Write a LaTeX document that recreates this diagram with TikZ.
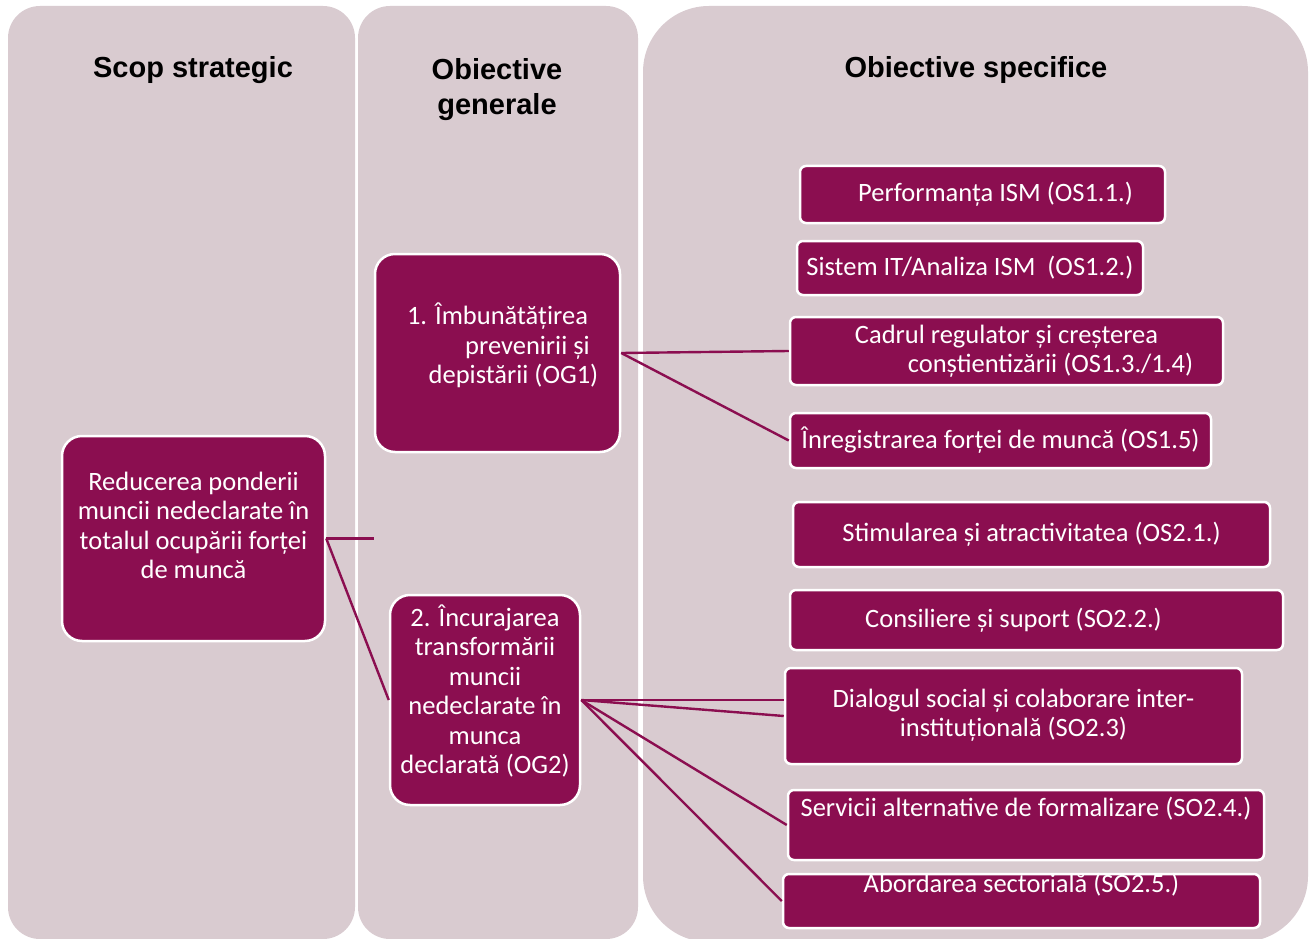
\documentclass[tikz,border=0pt]{standalone}
\usepackage{fontspec}
\setmainfont{Carlito}
\newfontfamily\headfont{Liberation Sans}
\usepackage{xcolor}
\definecolor{mov}{RGB}{139,14,80}
\definecolor{fundal}{RGB}{217,203,208}
\tikzset{
  coloana/.style={fill=fundal},
  titlu/.style={font=\headfont\bfseries\fontsize{29}{35}\selectfont, align=center, inner sep=0pt, anchor=north},
  mare/.style={draw=white, line width=2.5pt, fill=mov, rounded corners=20pt, text=white,
    align=center, font=\fontsize{26.5}{29.5}\selectfont, inner sep=4pt},
  mic/.style={draw=white, line width=2.5pt, fill=mov, rounded corners=6pt, text=white,
    font=\fontsize{26.5}{29.5}\selectfont, inner sep=3pt},
  leg/.style={draw=mov, line width=2.4pt}
}

\begin{document}
\begin{tikzpicture}[x=1pt, y=-1pt]
     \useasboundingbox [fill=white] (0,0) rectangle (1310,939);
     \fill [coloana, rounded corners=32pt] (8,6) rectangle (355,939);
     \fill [coloana, rounded corners=32pt] (358,6) rectangle (638,939);
     \fill [coloana, rounded corners=66pt] (643,6) rectangle (1308,942);

     \node [titlu] (hscop) at (193,56) {Scop strategic};
     \node [titlu] (hgen) at (497,58) {Obiective\\generale};
     \node [titlu] (hspec) at (976,56) {Obiective specifice};

     \node [mare, minimum width=263pt, minimum height=205pt, text depth=26pt] (scop) at (193.5,538.5)
          {Reducerea ponderii\\muncii nedeclarate în\\totalul ocupării forței\\de muncă};
     \node [mare, minimum width=245pt, minimum height=198pt, text depth=19pt] (og1) at (497.5,353)
          {1. Îmbunătățirea\\\hspace*{60pt}prevenirii și\\\hspace*{32pt}depistării (OG1)};
     \node [mare, minimum width=190pt, minimum height=210pt, text depth=22pt] (og2) at (485,700)
          {2. Încurajarea\\transformării\\muncii\\nedeclarate în\\munca\\declarată (OG2)};

     \node [mic, minimum width=365pt, minimum height=57pt] (os11) at (982.5,194.5) {\hspace*{26pt}Performanța ISM (OS1.1.)};
     \node [mic, minimum width=346pt, minimum height=54pt] (os12) at (970,268) {Sistem IT/Analiza ISM\ \ (OS1.2.)};
     \node [mic, align=center, minimum width=433pt, minimum height=68pt] (os13) at (1006.5,351)
          {Cadrul regulator și creșterea\\\hspace*{88pt}conștientizării (OS1.3./1.4)};
     \node [mic, minimum width=421pt, minimum height=55pt] (os15) at (1000.5,440.5) {Înregistrarea forței de muncă (OS1.5)};
     \node [mic, minimum width=477pt, minimum height=65pt] (os21) at (1031.5,534.5) {Stimularea și atractivitatea (OS2.1.)};
     \node [mic, minimum width=493pt, minimum height=60pt] (so22) at (1036.5,620) {Consiliere și suport (SO2.2.)\hspace*{46pt}};
     \node [mic, align=center, minimum width=457pt, minimum height=96pt, text depth=6pt] (so23) at (1013.5,716)
          {Dialogul social și colaborare inter-\\instituțională (SO2.3)};
     \node [mic, minimum width=476pt, minimum height=70pt, text height=23pt, text depth=41pt] (so24) at (1026,825)
          {Servicii alternative de formalizare (SO2.4.)};
     \node [mic, minimum width=477pt, minimum height=54pt, text height=15pt, text depth=33pt] (so25) at (1021.5,901)
          {Abordarea sectorială (SO2.5.)};

     \coordinate (capat) at (374,538.5);
     \draw [leg] (scop.east) -- (capat);
     \draw [leg] (scop.east) -- (og2.west);
     \draw [leg] (og1.east) -- (os13.west);
     \draw [leg] (og1.east) -- (os15.west);
     \draw [leg] (og2.east) -- (so23.west |- og2.east);
     \draw [leg] (og2.east) -- (so23.west);
     \draw [leg] (og2.east) -- (so24.west);
     \draw [leg] (og2.east) -- (so25.west);
\end{tikzpicture}
\end{document}
